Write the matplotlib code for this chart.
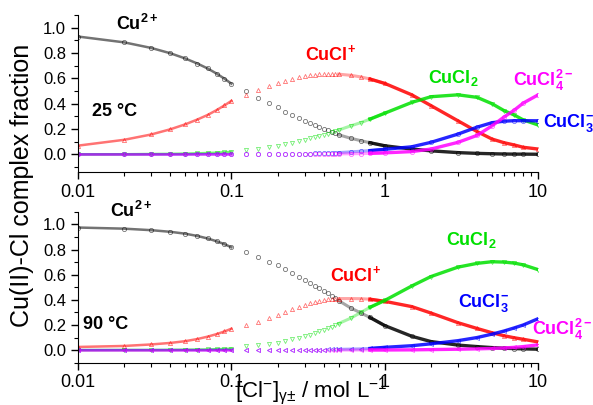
import matplotlib
matplotlib.use("Agg")
import matplotlib.pyplot as plt
from matplotlib.ticker import FixedLocator, MultipleLocator, LogLocator, NullFormatter, FormatStrFormatter

plt.rcParams["font.family"] = ["Liberation Sans", "DejaVu Sans"]
plt.rcParams["mathtext.fontset"] = "custom"
plt.rcParams["mathtext.rm"] = "Liberation Sans"
plt.rcParams["mathtext.it"] = "Liberation Sans:italic"
plt.rcParams["mathtext.bf"] = "Liberation Sans:bold"

# activity of Cl- (x axis), three stretches: dense / sparse / dense
x_lo = [0.01, 0.02, 0.03, 0.04, 0.05, 0.06, 0.07, 0.08, 0.09, 0.1]
x_mid = [0.125, 0.15, 0.175, 0.2, 0.225, 0.25, 0.275, 0.3, 0.325, 0.35, 0.375, 0.4, 0.425, 0.45, 0.475]
x_hi = [0.5, 0.6, 0.7, 0.8, 1, 1.5, 2, 3, 4, 5, 6, 7, 8, 10]

# 25 C
cu_25_lo = [0.930, 0.884, 0.840, 0.798, 0.757, 0.717, 0.678, 0.638, 0.598, 0.558]
cu_25_mid = [0.497, 0.444, 0.405, 0.370, 0.338, 0.312, 0.286, 0.267, 0.251, 0.235, 0.219, 0.203, 0.190, 0.177, 0.166]
cu_25_hi = [0.155, 0.127, 0.108, 0.092, 0.068, 0.042, 0.028, 0.014, 0.008, 0.005, 0.003, 0.002, 0.002, 0.001]

cucl_25_lo = [0.069, 0.115, 0.157, 0.198, 0.237, 0.275, 0.311, 0.349, 0.386, 0.422]
cucl_25_mid = [0.470, 0.508, 0.537, 0.563, 0.578, 0.595, 0.609, 0.618, 0.625, 0.630, 0.633, 0.635, 0.636, 0.636, 0.635]
cucl_25_hi = [0.633, 0.624, 0.611, 0.595, 0.560, 0.470, 0.385, 0.265, 0.180, 0.121, 0.092, 0.074, 0.056, 0.042]

cucl2_25_lo = [0.000, 0.001, 0.003, 0.004, 0.006, 0.008, 0.011, 0.013, 0.016, 0.020]
cucl2_25_mid = [0.034, 0.045, 0.056, 0.070, 0.082, 0.092, 0.105, 0.116, 0.126, 0.136, 0.146, 0.155, 0.164, 0.173, 0.182]
cucl2_25_hi = [0.192, 0.225, 0.251, 0.278, 0.325, 0.410, 0.455, 0.470, 0.450, 0.400, 0.345, 0.310, 0.272, 0.232]

cucl3_25_lo = [0.000, 0.000, 0.000, 0.000, 0.000, 0.001, 0.001, 0.001, 0.001, 0.001]
cucl3_25_mid = [0.001, 0.001, 0.002, 0.002, 0.003, 0.003, 0.004, 0.005, 0.006, 0.007, 0.008, 0.009, 0.010, 0.011, 0.012]
cucl3_25_hi = [0.014, 0.020, 0.025, 0.030, 0.040, 0.060, 0.095, 0.160, 0.215, 0.250, 0.262, 0.266, 0.266, 0.265]

cucl4_25_lo = [0.000, 0.000, 0.000, 0.000, 0.000, 0.000, 0.000, 0.000, 0.000, 0.000]
cucl4_25_mid = [0.000, 0.000, 0.000, 0.000, 0.000, 0.001, 0.001, 0.001, 0.001, 0.002, 0.002, 0.002, 0.003, 0.003, 0.003]
cucl4_25_hi = [0.004, 0.005, 0.006, 0.008, 0.012, 0.022, 0.042, 0.095, 0.150, 0.225, 0.295, 0.350, 0.405, 0.470]

# 90 C
cu_90_lo = [0.975, 0.966, 0.954, 0.941, 0.926, 0.908, 0.888, 0.866, 0.843, 0.818]
cu_90_mid = [0.778, 0.740, 0.703, 0.674, 0.643, 0.613, 0.584, 0.558, 0.537, 0.513, 0.494, 0.473, 0.452, 0.431, 0.413]
cu_90_hi = [0.394, 0.335, 0.295, 0.260, 0.195, 0.110, 0.068, 0.040, 0.028, 0.020, 0.015, 0.012, 0.010, 0.007]

cucl_90_lo = [0.025, 0.033, 0.045, 0.057, 0.071, 0.088, 0.107, 0.127, 0.148, 0.170]
cucl_90_mid = [0.198, 0.225, 0.254, 0.278, 0.306, 0.328, 0.346, 0.362, 0.373, 0.383, 0.391, 0.399, 0.405, 0.407, 0.410]
cucl_90_hi = [0.410, 0.410, 0.409, 0.405, 0.388, 0.346, 0.295, 0.218, 0.172, 0.138, 0.114, 0.098, 0.086, 0.065]

cucl2_90_lo = [0.000, 0.001, 0.001, 0.002, 0.003, 0.004, 0.005, 0.007, 0.009, 0.012]
cucl2_90_mid = [0.029, 0.040, 0.048, 0.060, 0.074, 0.087, 0.100, 0.113, 0.124, 0.135, 0.148, 0.161, 0.175, 0.185, 0.198]
cucl2_90_hi = [0.211, 0.254, 0.300, 0.340, 0.395, 0.510, 0.585, 0.660, 0.690, 0.703, 0.700, 0.692, 0.678, 0.640]

cucl3_90_lo = [0.000, 0.000, 0.000, 0.000, 0.000, 0.000, 0.000, 0.001, 0.001, 0.001]
cucl3_90_mid = [0.001, 0.001, 0.001, 0.001, 0.002, 0.002, 0.002, 0.003, 0.003, 0.003, 0.004, 0.004, 0.005, 0.005, 0.006]
cucl3_90_hi = [0.006, 0.008, 0.010, 0.013, 0.022, 0.035, 0.050, 0.075, 0.100, 0.127, 0.152, 0.177, 0.200, 0.250]

cucl4_90_lo = [0.000, 0.000, 0.000, 0.000, 0.000, 0.000, 0.000, 0.000, 0.000, 0.000]
cucl4_90_mid = [0.000, 0.000, 0.000, 0.000, 0.000, 0.000, 0.000, 0.000, 0.000, 0.000, 0.000, 0.000, 0.000, 0.000, 0.000]
cucl4_90_hi = [0.000, 0.000, 0.001, 0.001, 0.001, 0.002, 0.004, 0.007, 0.010, 0.013, 0.017, 0.022, 0.028, 0.042]

BLACK = "#000000"
RED = "#ff0000"
GREEN = "#00e000"
BLUE = "#0000ff"
MAGENTA = "#ff00ff"


def draw(ax, lo, mid, hi, color, marker):
    # dense stretches look like a solid band, sparse one shows single open markers
    ax.plot(x_lo, lo, color=color, lw=1.8, alpha=0.55)
    ax.plot(x_hi[:5], hi[:5], color=color, lw=2.2, alpha=0.35)
    ax.plot(x_hi[3:], hi[3:], color=color, lw=2.4, alpha=0.85)
    ax.plot(x_lo + x_mid + x_hi, lo + mid + hi, ls="none", marker=marker, ms=3.0,
            mfc="none", mec=color, mew=0.6, alpha=0.55)


def style(ax, ymin):
    ax.set_xscale("log")
    ax.set_xlim(0.01, 10)
    ax.set_ylim(ymin, 1.1)
    ax.spines["top"].set_visible(False)
    ax.spines["right"].set_visible(False)
    ax.xaxis.set_major_locator(FixedLocator([0.01, 0.1, 1, 10]))
    ax.set_xticklabels(["0.01", "0.1", "1", "10"])
    ax.xaxis.set_minor_locator(LogLocator(base=10, subs=range(2, 10)))
    ax.xaxis.set_minor_formatter(NullFormatter())
    ax.yaxis.set_major_locator(FixedLocator([0.0, 0.2, 0.4, 0.6, 0.8, 1.0]))
    ax.yaxis.set_major_formatter(FormatStrFormatter("%.1f"))
    ax.yaxis.set_minor_locator(MultipleLocator(0.1))
    ax.tick_params(axis="x", which="major", direction="out", length=5, width=1, labelsize=13)
    ax.tick_params(axis="y", which="major", direction="out", length=5, width=1, labelsize=12)
    ax.tick_params(which="minor", direction="out", length=3, width=0.8)


fig = plt.figure(figsize=(5.93, 4.05), dpi=100)
ax1 = fig.add_axes([0.1315, 0.575, 0.776, 0.388])
ax2 = fig.add_axes([0.1315, 0.1045, 0.776, 0.3725])

draw(ax1, cu_25_lo, cu_25_mid, cu_25_hi, BLACK, "o")
draw(ax1, cucl_25_lo, cucl_25_mid, cucl_25_hi, RED, "^")
draw(ax1, cucl2_25_lo, cucl2_25_mid, cucl2_25_hi, GREEN, "v")
draw(ax1, cucl3_25_lo, cucl3_25_mid, cucl3_25_hi, BLUE, "o")
draw(ax1, cucl4_25_lo, cucl4_25_mid, cucl4_25_hi, MAGENTA, "o")
style(ax1, -0.14)

draw(ax2, cu_90_lo, cu_90_mid, cu_90_hi, BLACK, "o")
draw(ax2, cucl_90_lo, cucl_90_mid, cucl_90_hi, RED, "^")
draw(ax2, cucl2_90_lo, cucl2_90_mid, cucl2_90_hi, GREEN, "v")
draw(ax2, cucl3_90_lo, cucl3_90_mid, cucl3_90_hi, BLUE, "<")
draw(ax2, cucl4_90_lo, cucl4_90_mid, cucl4_90_hi, MAGENTA, "<")
style(ax2, -0.1)

lab = dict(fontsize=13, fontweight="bold", va="center", ha="left", clip_on=False)
ax1.text(0.0177, 1.026, r"Cu$^{\mathbf{2+}}$", color=BLACK, **lab)
ax1.text(0.0123, 0.338, "25 °C", color=BLACK, **lab)
ax1.text(0.30, 0.79, r"CuCl$^{\mathbf{+}}$", color=RED, **lab)
ax1.text(1.9, 0.60, r"CuCl$_{\mathbf{2}}$", color=GREEN, **lab)
ax1.text(6.9, 0.58, r"CuCl$_{\mathbf{4}}^{\mathbf{2-}}$", color=MAGENTA, **lab)
ax1.text(10.7, 0.246, r"CuCl$_{\mathbf{3}}^{\mathbf{-}}$", color=BLUE, **lab)

ax2.text(0.0162, 1.11, r"Cu$^{\mathbf{2+}}$", color=BLACK, **lab)
ax2.text(0.0108, 0.20, "90 °C", color=BLACK, **lab)
ax2.text(0.44, 0.60, r"CuCl$^{\mathbf{+}}$", color=RED, **lab)
ax2.text(2.5, 0.875, r"CuCl$_{\mathbf{2}}$", color=GREEN, **lab)
ax2.text(3.0, 0.373, r"CuCl$_{\mathbf{3}}^{\mathbf{-}}$", color=BLUE, **lab)
ax2.text(9.07, 0.161, r"CuCl$_{\mathbf{4}}^{\mathbf{2-}}$", color=MAGENTA, **lab)

fig.text(0.037, 0.543, "Cu(II)-Cl complex fraction", rotation=90, fontsize=18, ha="center", va="center")
fig.text(0.525, 0.035, r"[Cl$^{-}$]$_{\mathrm{γ±}}$ / mol L$^{-1}$", fontsize=16, ha="center", va="center")

fig.savefig("out.png", dpi=100)
